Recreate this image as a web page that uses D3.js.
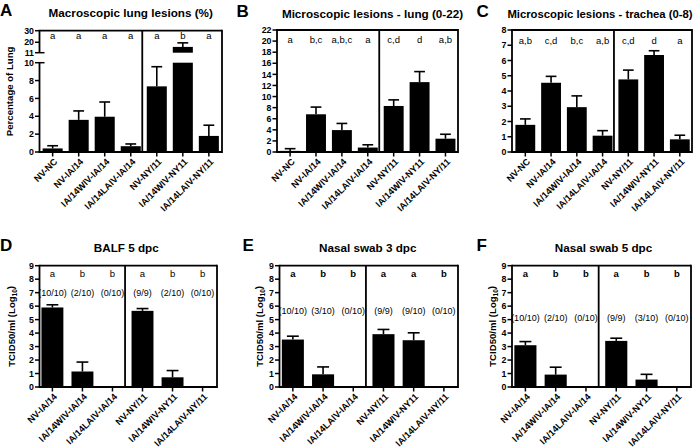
<!DOCTYPE html>
<html><head><meta charset="utf-8">
<script src="https://cdn.jsdelivr.net/npm/d3@7"></script>
<style>body{margin:0;background:#fff} svg{display:block}</style>
</head><body>
<svg id="c" width="696" height="448"></svg>
<script>
// ---------------- DATA ----------------
const lesionGroups = ["NV-NC","NV-IA/14","IA/14WIV-IA/14","IA/14LAIV-IA/14","NV-NY/11","IA/14WIV-NY11","IA/14LAIV-NY/11"];
const virusGroups  = ["NV-IA/14","IA/14WIV-IA/14","IA/14LAIV-IA/14","NV-NY/11","IA/14WIV-NY11","IA/14LAIV-NY/11"];

// A: Macroscopic lung lesions (%)
const macroMean    = [0.4, 3.6, 3.95, 0.65, 7.35, 16.0, 1.8];
const macroSem     = [0.3, 1.0, 1.65, 0.25, 2.2, 3.5, 1.2];
const macroLetters = ["a","a","a","a","a","b","a"];
const macroTicksLow  = [0,2,4,6,8,10];
const macroTicksHigh = [11,20,30];

// B: Microscopic lesions - lung (0-22)
const lungMean    = [0.2, 6.8, 3.95, 0.8, 8.3, 12.6, 2.4];
const lungSem     = [0.4, 1.3, 1.2, 0.5, 1.1, 1.9, 0.8];
const lungLetters = ["a","b,c","a,b,c","a","c,d","d","a,b"];
const lungTicks   = [0,2,4,6,8,10,12,14,16,18,20,22];

// C: Microscopic lesions - trachea (0-8)
const trachMean    = [1.78, 4.54, 2.94, 1.07, 4.76, 6.36, 0.83];
const trachSem     = [0.39, 0.42, 0.74, 0.33, 0.61, 0.28, 0.27];
const trachLetters = ["a,b","c,d","b,c","a,b","c,d","d","a"];
const trachTicks   = [0,1,2,3,4,5,6,7,8];

// D: BALF 5 dpc
const balfMean     = [5.9, 1.15, 0, 5.65, 0.72, 0];
const balfSem      = [0.2, 0.7, 0, 0.17, 0.5, 0];
const balfLetters  = ["a","b","b","a","b","b"];
const balfPositive = ["(10/10)","(2/10)","(0/10)","(9/9)","(2/10)","(0/10)"];

// E: Nasal swab 3 dpc
const ns3Mean     = [3.52, 0.94, 0, 3.92, 3.47, 0];
const ns3Sem      = [0.25, 0.55, 0, 0.35, 0.55, 0];
const ns3Letters  = ["a","b","b","a","a","b"];
const ns3Positive = ["(10/10)","(3/10)","(0/10)","(9/9)","(9/10)","(0/10)"];

// F: Nasal swab 5 dpc
const ns5Mean     = [3.1, 0.92, 0, 3.42, 0.55, 0];
const ns5Sem      = [0.27, 0.55, 0, 0.2, 0.39, 0];
const ns5Letters  = ["a","b","b","a","b","b"];
const ns5Positive = ["(10/10)","(2/10)","(0/10)","(9/9)","(3/10)","(0/10)"];

const titerTicks = [0,1,2,3,4,5,6,7,8,9];

// ---------------- DRAWING ----------------
const svg = d3.select("#c");
const FONT = "'Liberation Sans', Arial, Helvetica, sans-serif";

function drawPanel(p) {
  const g = svg.append("g").attr("font-family", FONT);
  const x = d3.scaleBand().domain(p.cats).range([p.x0, p.x1])
    .paddingInner(p.pi).paddingOuter(p.po).align(p.align);
  const bw = x.bandwidth();
  const cx = c => x(c) + bw / 2;
  const segs = p.segments.map(s => Object.assign({}, s, {
    scale: d3.scaleLinear().domain([s.lo, s.hi]).range([s.yb, s.yt])
  }));
  const bottom = segs[0].yb;
  const top = segs[segs.length - 1].yt;
  const segFor = v => segs.find(s => v <= s.hi) || segs[segs.length - 1];

  // bars
  p.cats.forEach((c, i) => {
    const v = p.mean[i];
    segs.forEach(s => {
      if (v > s.lo) {
        const yv = s.scale(Math.min(v, s.hi));
        g.append("rect").attr("x", x(c)).attr("width", bw)
          .attr("y", yv).attr("height", s.scale(s.lo) - yv).attr("fill", "#000");
      }
    });
    if (v > 0 && p.sem[i] > 0) {
      const s = segFor(v);
      const y1 = s.scale(v), y2 = s.scale(v + p.sem[i]);
      g.append("line").attr("x1", cx(c)).attr("x2", cx(c)).attr("y1", y1).attr("y2", y2)
        .attr("stroke", "#000").attr("stroke-width", 1.6);
      g.append("line").attr("x1", cx(c) - bw * 0.27).attr("x2", cx(c) + bw * 0.27)
        .attr("y1", y2).attr("y2", y2).attr("stroke", "#000").attr("stroke-width", 1.6);
    }
  });

  // frame
  const sw = 1.8;
  g.append("line").attr("x1", p.x0).attr("x2", p.x1).attr("y1", top).attr("y2", top).attr("stroke", "#000").attr("stroke-width", sw);
  g.append("line").attr("x1", p.x1).attr("x2", p.x1).attr("y1", top - sw/2).attr("y2", bottom + sw/2).attr("stroke", "#000").attr("stroke-width", sw);
  g.append("line").attr("x1", p.x0 - sw/2).attr("x2", p.x1).attr("y1", bottom).attr("y2", bottom).attr("stroke", "#000").attr("stroke-width", sw);
  segs.forEach(s => {
    g.append("line").attr("x1", p.x0).attr("x2", p.x0).attr("y1", s.yb).attr("y2", s.yt - (s === segs[segs.length-1] ? sw/2 : 0))
      .attr("stroke", "#000").attr("stroke-width", sw);
    s.ticks.forEach(t => {
      const y = s.scale(t);
      const isBreak = segs.length > 1 && ((t === s.lo && s !== segs[0]) || (t === s.hi && s !== segs[segs.length-1]));
      g.append("line").attr("x1", p.x0 - 4.5).attr("x2", isBreak ? p.x0 + 5 : p.x0).attr("y1", y).attr("y2", y)
        .attr("stroke", "#000").attr("stroke-width", 1.5);
      g.append("text").attr("x", p.x0 - 5.5).attr("y", y).attr("dy", "0.36em")
        .attr("text-anchor", "end").attr("font-size", 8.8).attr("font-weight", "bold").text(t);
    });
  });

  // divider between virus groups
  const dv = x(p.cats[p.split - 1]) + bw + (x.step() - bw) * p.divFrac;
  g.append("line").attr("x1", dv).attr("x2", dv).attr("y1", top).attr("y2", bottom)
    .attr("stroke", "#000").attr("stroke-width", sw);

  // x ticks and labels
  p.cats.forEach(c => {
    g.append("line").attr("x1", cx(c)).attr("x2", cx(c)).attr("y1", bottom).attr("y2", bottom + 4.5)
      .attr("stroke", "#000").attr("stroke-width", 1.5);
    g.append("text").attr("text-anchor", "end").attr("font-size", 9.2).attr("font-weight", "bold")
      .attr("transform", `translate(${cx(c) + 3},${bottom + 8}) rotate(-45)`).attr("dy", "0.35em").text(c);
  });

  // letters
  const ls = segFor(p.letterLevel);
  p.cats.forEach((c, i) => {
    g.append("text").attr("x", cx(c)).attr("y", ls.scale(p.letterLevel)).attr("text-anchor", "middle")
      .attr("font-size", 9.5).attr("font-weight", p.boldLetters ? "bold" : "normal").text(p.letters[i]);
  });
  if (p.positive) {
    p.cats.forEach((c, i) => {
      g.append("text").attr("x", cx(c)).attr("y", segs[0].scale(p.posLevel)).attr("text-anchor", "middle")
        .attr("font-size", 9).text(p.positive[i]);
    });
  }

  // title, panel letter, y title
  g.append("text").attr("x", (p.x0 + p.x1) / 2 + (p.titleDx || 0)).attr("y", p.titleY).attr("text-anchor", "middle")
    .attr("font-size", p.titleSize || 11.7).attr("font-weight", "bold").text(p.title);
  g.append("text").attr("x", p.letterX).attr("y", p.titleY - 1).attr("font-size", 17).attr("font-weight", "bold").text(p.panel);
  if (p.ytitle) {
    const t = g.append("text").attr("transform", `translate(${p.ytitleX},${(top + bottom) / 2}) rotate(-90)`)
      .attr("text-anchor", "middle").attr("font-size", 9.6).attr("font-weight", "bold");
    if (p.ytitleSub) {
      t.append("tspan").text(p.ytitle);
      t.append("tspan").attr("font-size", 6.5).attr("dy", "0.35em").text(p.ytitleSub);
      t.append("tspan").attr("dy", "-0.35em").text(")");
    } else t.text(p.ytitle);
  }
}

const rowTop = 265.7, rowBot = 387;

drawPanel({panel:"A", title:"Macroscopic lung lesions (%)", titleY:17.3, letterX:0,
  cats:lesionGroups, mean:macroMean, sem:macroSem, letters:macroLetters, letterLevel:22.6,
  x0:39.5, x1:222, pi:0.23, po:0.12, align:0.5, split:4, divFrac:0.25,
  segments:[{lo:0, hi:10, yb:152, yt:62.7, ticks:macroTicksLow},{lo:11, hi:30, yb:52.7, yt:30.7, ticks:macroTicksHigh}],
  ytitle:"Percentage of Lung", ytitleX:13});

drawPanel({panel:"B", title:"Microscopic lesions - lung (0-22)", titleY:18.3, letterX:236.5, titleDx:5,
  cats:lesionGroups, mean:lungMean, sem:lungSem, letters:lungLetters, letterLevel:19.6,
  x0:277, x1:458, pi:0.23, po:0.11, align:0.55, split:4, divFrac:0.25,
  segments:[{lo:0, hi:22, yb:152, yt:30, ticks:lungTicks}]});

drawPanel({panel:"C", title:"Microscopic lesions - trachea (0-8)", titleY:18.3, letterX:476.5, titleDx:-2, titleSize:11.3,
  cats:lesionGroups, mean:trachMean, sem:trachSem, letters:trachLetters, letterLevel:7.1,
  x0:512, x1:692, pi:0.23, po:0.11, align:0.6, split:4, divFrac:0.25,
  segments:[{lo:0, hi:8, yb:152, yt:30, ticks:trachTicks}]});

drawPanel({panel:"D", title:"BALF 5 dpc", titleY:251.7, letterX:0, titleDx:-2,
  cats:virusGroups, mean:balfMean, sem:balfSem, letters:balfLetters, letterLevel:8.18,
  positive:balfPositive, posLevel:6.75,
  x0:39.5, x1:217, pi:0.27, po:0.09, align:0.36, split:3, divFrac:0.2,
  segments:[{lo:0, hi:9, yb:rowBot, yt:rowTop, ticks:titerTicks}],
  ytitle:"TCID50/ml (Log", ytitleSub:"10", ytitleX:15});

drawPanel({panel:"E", title:"Nasal swab 3 dpc", titleY:251.7, letterX:242.5, titleDx:-1,
  cats:virusGroups, mean:ns3Mean, sem:ns3Sem, letters:ns3Letters, letterLevel:8.18, boldLetters:true,
  positive:ns3Positive, posLevel:5.45,
  x0:279.5, x1:458, pi:0.27, po:0.09, align:0.43, split:3, divFrac:0.2,
  segments:[{lo:0, hi:9, yb:rowBot, yt:rowTop, ticks:titerTicks}],
  ytitle:"TCID50/ml (Log", ytitleSub:"10", ytitleX:263});

drawPanel({panel:"F", title:"Nasal swab 5 dpc", titleY:251.7, letterX:476.5, titleDx:2,
  cats:virusGroups, mean:ns5Mean, sem:ns5Sem, letters:ns5Letters, letterLevel:8.18, boldLetters:true,
  positive:ns5Positive, posLevel:4.9,
  x0:512, x1:691, pi:0.27, po:0.09, align:0.43, split:3, divFrac:0.2,
  segments:[{lo:0, hi:9, yb:rowBot, yt:rowTop, ticks:titerTicks}],
  ytitle:"TCID50/ml (Log", ytitleSub:"10", ytitleX:496});
</script>
</body></html>
